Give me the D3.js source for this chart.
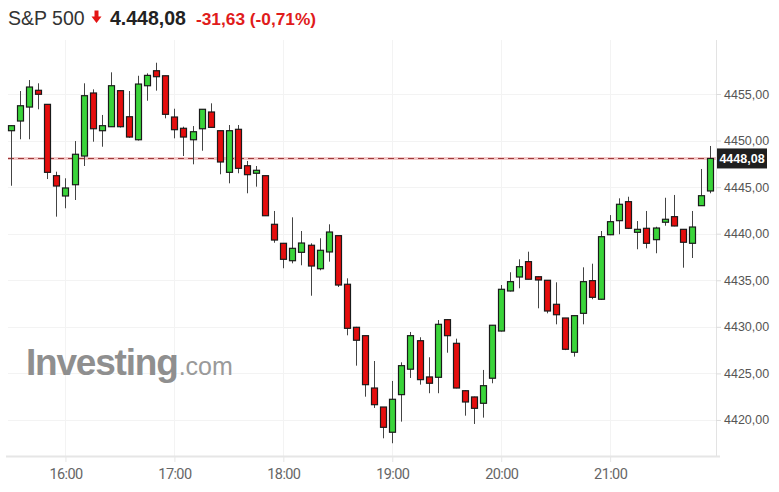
<!DOCTYPE html>
<html>
<head>
<meta charset="utf-8">
<script src="https://cdn.jsdelivr.net/npm/d3@7"></script>
<style>
  html, body { margin: 0; padding: 0; background: #fff; }
  svg { display: block; }
</style>
</head>
<body>
<svg id="chart" width="779" height="492"></svg>
<script>
// ---- DATA ----
const times = ["15:30","15:35","15:40","15:45","15:50","15:55",
  "16:00","16:05","16:10","16:15","16:20","16:25","16:30","16:35","16:40","16:45","16:50","16:55",
  "17:00","17:05","17:10","17:15","17:20","17:25","17:30","17:35","17:40","17:45","17:50","17:55",
  "18:00","18:05","18:10","18:15","18:20","18:25","18:30","18:35","18:40","18:45","18:50","18:55",
  "19:00","19:05","19:10","19:15","19:20","19:25","19:30","19:35","19:40","19:45","19:50","19:55",
  "20:00","20:05","20:10","20:15","20:20","20:25","20:30","20:35","20:40","20:45","20:50","20:55",
  "21:00","21:05","21:10","21:15","21:20","21:25","21:30","21:35","21:40","21:45","21:50","21:55"];
const open = [4451.06,4452.10,4453.60,4455.40,4453.89,4446.23,4444.05,4445.26,4448.34,4455.11,4451.06,4451.49,4455.36,4452.56,4450.09,4455.89,4457.50,4456.96,
  4452.53,4451.32,4450.09,4451.27,4453.07,4451.06,4446.59,4451.21,4447.30,4446.49,4446.23,4441.01,
  4438.97,4437.10,4438.00,4438.76,4436.24,4438.04,4439.79,4434.57,4429.95,4429.05,4423.43,4421.39,
  4418.68,4422.72,4425.45,4428.51,4424.62,4424.58,4430.77,4428.23,4423.14,4422.47,4421.79,4424.48,
  4429.55,4433.85,4435.35,4437.00,4435.38,4435.00,4432.42,4430.95,4427.27,4431.45,4434.96,4432.96,
  4439.89,4441.40,4443.44,4440.15,4440.58,4439.36,4441.23,4441.83,4440.47,4438.97,4443.01,4444.59];
const high = [4451.65,4455.32,4456.50,4456.15,4453.89,4446.66,4445.95,4449.95,4456.15,4455.50,4452.75,4457.33,4455.40,4455.32,4456.96,4457.22,4458.36,4456.96,
  4453.42,4451.49,4451.56,4453.36,4454.00,4451.06,4451.67,4451.67,4447.81,4447.27,4446.23,4442.44,
  4439.00,4441.76,4440.29,4438.97,4439.51,4441.01,4439.79,4435.21,4430.00,4429.05,4426.33,4421.39,
  4424.19,4426.19,4429.45,4428.88,4426.73,4430.73,4430.80,4428.73,4423.20,4422.50,4425.37,4430.20,
  4434.49,4435.86,4437.25,4438.07,4435.40,4435.00,4434.78,4430.95,4431.20,4436.39,4436.78,4440.29,
  4442.00,4443.80,4443.97,4441.36,4442.44,4440.75,4443.86,4444.16,4440.50,4442.44,4446.95,4449.42];
const low = [4445.15,4450.14,4450.14,4453.36,4445.87,4441.83,4442.73,4443.62,4447.27,4449.88,4449.34,4451.49,4451.40,4450.30,4450.00,4454.28,4455.36,4452.39,
  4450.24,4448.34,4447.45,4448.91,4451.40,4446.38,4445.41,4446.49,4444.34,4445.05,4441.90,4439.03,
  4436.29,4436.82,4436.61,4433.34,4436.07,4437.00,4434.28,4429.09,4425.83,4422.50,4421.29,4418.03,
  4417.50,4419.82,4424.51,4423.79,4422.87,4422.87,4427.22,4423.40,4420.46,4419.57,4420.25,4423.94,
  4429.50,4433.80,4434.14,4435.10,4431.99,4431.45,4430.27,4427.50,4426.80,4430.27,4432.96,4432.90,
  4439.85,4439.94,4440.50,4438.33,4438.43,4437.90,4440.86,4440.80,4436.35,4437.39,4443.00,4444.34];
const close = [4451.60,4453.74,4455.75,4454.97,4446.59,4445.12,4444.91,4448.53,4454.82,4451.27,4451.60,4455.89,4451.49,4450.38,4456.07,4457.00,4456.86,4452.82,
  4451.17,4450.38,4450.95,4453.36,4451.42,4447.70,4451.06,4447.02,4446.34,4446.81,4441.93,4439.32,
  4437.25,4438.43,4439.00,4436.53,4438.22,4440.18,4434.49,4429.84,4428.56,4423.79,4421.64,4419.21,
  4422.22,4425.83,4429.05,4424.33,4423.94,4430.27,4429.05,4423.43,4421.93,4421.25,4423.68,4430.17,
  4434.03,4434.85,4436.46,4435.11,4435.03,4431.70,4431.30,4427.59,4431.20,4434.85,4433.17,4439.68,
  4441.29,4443.16,4440.58,4440.47,4438.97,4440.61,4441.55,4440.83,4439.08,4440.72,4444.08,4448.08];
const yTicks = [4420, 4425, 4430, 4435, 4440, 4445, 4450, 4455];
const xTicks = ["16:00","17:00","18:00","19:00","20:00","21:00"];
const lastPrice = 4448.08;
const title = "S&P 500";
const priceText = "4.448,08";
const changeText = "-31,63 (-0,71%)";

// ---- CHART ----
const svg = d3.select("#chart");
const parse = d3.timeParse("%H:%M");
const fmt = v => d3.format(".2f")(v).replace(".", ",");

const plotLeft = 8, plotRight = 716, plotTop = 40, plotBottom = 456;

const x = d3.scaleTime()
  .domain([parse("15:30"), parse("21:55")])
  .range([11, 710]);
const y = d3.scaleLinear()
  .domain([4416.13, 4460.8])
  .range([plotBottom, plotTop]);

const data = times.map((t, i) => ({ t: parse(t), o: open[i], h: high[i], l: low[i], c: close[i] }));

// gridlines
svg.append("g").selectAll("line").data(yTicks).join("line")
  .attr("x1", plotLeft).attr("x2", plotRight)
  .attr("y1", d => Math.round(y(d)) + 0.5).attr("y2", d => Math.round(y(d)) + 0.5)
  .attr("stroke", "#f3f3f3");
svg.append("g").selectAll("line").data(xTicks).join("line")
  .attr("x1", d => Math.round(x(parse(d))) + 0.5).attr("x2", d => Math.round(x(parse(d))) + 0.5)
  .attr("y1", plotTop).attr("y2", plotBottom)
  .attr("stroke", "#f3f3f3");

// frame
svg.append("line").attr("x1", plotRight + 0.5).attr("x2", plotRight + 0.5)
  .attr("y1", plotTop).attr("y2", plotBottom + 1).attr("stroke", "#e3e3e3");
svg.append("line").attr("x1", 6).attr("x2", plotRight + 4)
  .attr("y1", plotBottom + 0.5).attr("y2", plotBottom + 0.5).attr("stroke", "#e6e6e6").attr("stroke-width", 2);

// watermark
const wm = svg.append("text").attr("x", 26).attr("y", 375)
  .attr("font-family", "Liberation Sans, Arial, sans-serif");
wm.append("tspan").text("Investing").attr("font-size", 37).attr("font-weight", "bold")
  .attr("fill", "#8f8f8f").attr("letter-spacing", -1.2);
wm.append("tspan").text(".com").attr("font-size", 25).attr("fill", "#9a9a9a").attr("dx", 1);

// axes
const yAxis = d3.axisRight(y).tickValues(yTicks).tickFormat(fmt).tickSize(5).tickPadding(3);
const gy = svg.append("g").attr("transform", `translate(${plotRight},0)`).call(yAxis);
gy.select(".domain").remove();
gy.selectAll(".tick line").attr("stroke", "#ddd");
gy.selectAll(".tick text").attr("fill", "#555").attr("font-size", 12.5)
  .attr("font-family", "Liberation Sans, Arial, sans-serif");

const xAxis = d3.axisBottom(x).tickValues(xTicks.map(parse)).tickFormat(d3.timeFormat("%H:%M"))
  .tickSize(5).tickPadding(7);
const gx = svg.append("g").attr("transform", `translate(0,${plotBottom + 1})`).call(xAxis);
gx.select(".domain").remove();
gx.selectAll(".tick line").attr("stroke", "#e6e6e6");
gx.selectAll(".tick text").attr("fill", "#666").attr("font-size", 14.5)
  .attr("font-family", "Roboto, sans-serif").attr("letter-spacing", -0.6);

// last price dashed line
svg.append("line").attr("x1", plotLeft).attr("x2", plotRight)
  .attr("y1", Math.round(y(lastPrice)) + 0.5).attr("y2", Math.round(y(lastPrice)) + 0.5)
  .attr("stroke", "#f2c6c6").attr("stroke-width", 3);
svg.append("line").attr("x1", plotLeft).attr("x2", plotRight)
  .attr("y1", Math.round(y(lastPrice)) + 0.5).attr("y2", Math.round(y(lastPrice)) + 0.5)
  .attr("stroke", "#9c3a3a").attr("stroke-width", 1).attr("stroke-dasharray", "6,4");

// candles
const bw = 6;
const g = svg.append("g");
g.selectAll("line.wick").data(data).join("line").attr("class", "wick")
  .attr("x1", d => Math.round(x(d.t)) + 0.5).attr("x2", d => Math.round(x(d.t)) + 0.5)
  .attr("y1", d => y(d.h)).attr("y2", d => y(d.l))
  .attr("stroke", "#444").attr("stroke-width", 1);
g.selectAll("rect").data(data).join("rect")
  .attr("x", d => Math.round(x(d.t)) - bw / 2 + 0.5)
  .attr("y", d => y(Math.max(d.o, d.c)))
  .attr("width", bw)
  .attr("height", d => Math.max(1, y(Math.min(d.o, d.c)) - y(Math.max(d.o, d.c))))
  .attr("fill", d => d.c >= d.o ? "#3ad43a" : "#e50d0d")
  .attr("stroke", "#1a1a1a").attr("stroke-width", 1.2);

// last price label
const ly = y(lastPrice);
svg.append("rect").attr("x", plotRight + 1).attr("y", ly - 10).attr("width", 50).attr("height", 20)
  .attr("fill", "#1f1f1f");
svg.append("text").attr("x", plotRight + 26).attr("y", ly + 4.5).attr("text-anchor", "middle")
  .attr("fill", "#fff").attr("font-size", 12.5).attr("font-weight", "bold")
  .attr("font-family", "Liberation Sans, Arial, sans-serif").text(fmt(lastPrice));

// header
const hf = "Liberation Sans, Arial, sans-serif";
svg.append("text").attr("x", 8).attr("y", 25).attr("font-family", hf).attr("font-size", 19.5)
  .attr("fill", "#333").text(title);
svg.append("path")
  .attr("d", "M94.5,10.5 L98.5,10.5 L98.5,16.5 L101.5,16.5 L96.5,23 L91.5,16.5 L94.5,16.5 Z")
  .attr("fill", "#e31414");
svg.append("text").attr("x", 110).attr("y", 25).attr("font-family", hf).attr("font-size", 19.5)
  .attr("font-weight", "bold").attr("fill", "#222").text(priceText);
svg.append("text").attr("x", 196).attr("y", 25).attr("font-family", hf).attr("font-size", 17.3)
  .attr("font-weight", "bold").attr("fill", "#e01b1b").text(changeText);
</script>
</body>
</html>
